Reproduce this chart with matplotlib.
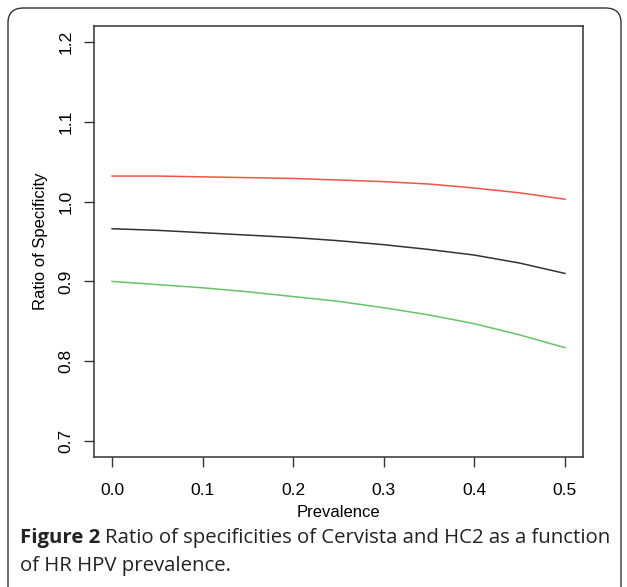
import matplotlib
matplotlib.use("Agg")
import matplotlib.pyplot as plt
from matplotlib.patches import FancyBboxPatch

# data
prevalence = [0.0, 0.05, 0.1, 0.15, 0.2, 0.25, 0.3, 0.35, 0.4, 0.45, 0.5]
ratio_upper = [1.032, 1.032, 1.031, 1.030, 1.029, 1.027, 1.025, 1.022, 1.017, 1.011, 1.003]
ratio_mid = [0.966, 0.964, 0.961, 0.958, 0.955, 0.951, 0.946, 0.940, 0.933, 0.923, 0.910]
ratio_lower = [0.900, 0.896, 0.892, 0.887, 0.881, 0.875, 0.867, 0.858, 0.847, 0.833, 0.817]
x_ticks = [0.0, 0.1, 0.2, 0.3, 0.4, 0.5]
y_ticks = [0.7, 0.8, 0.9, 1.0, 1.1, 1.2]

W, H = 627, 587
fig = plt.figure(figsize=(W / 100, H / 100), dpi=100)

# rounded frame round the figure panel
frame = FancyBboxPatch((8 / W, -20 / H), 613 / W, (H - 8 + 20) / H,
                       boxstyle="round,pad=0,rounding_size=0.025",
                       transform=fig.transFigure, fill=False,
                       edgecolor="#333333", linewidth=1.0)
fig.patches.append(frame)

ax = fig.add_axes([94 / W, 1 - 457 / H, (583 - 94) / W, (457 - 26) / H])
ax.plot(prevalence, ratio_upper, color="#ee5544", linewidth=1.1)
ax.plot(prevalence, ratio_mid, color="#333333", linewidth=1.1)
ax.plot(prevalence, ratio_lower, color="#66c466", linewidth=1.1)

ax.set_xlim(-0.02, 0.52)
ax.set_ylim(0.68, 1.22)
ax.set_xticks(x_ticks)
ax.set_xticklabels([f"{v:.1f}" for v in x_ticks])
ax.set_yticks(y_ticks)
ax.set_yticklabels([f"{v:.1f}" for v in y_ticks], rotation=90, va="center")

font = "Liberation Sans"
for lab in ax.get_xticklabels() + ax.get_yticklabels():
    lab.set_family(font)
    lab.set_fontsize(12.5)
ax.tick_params(direction="out", length=7, width=1, color="#333333", pad=8)
ax.tick_params(axis="x", pad=12)
for s in ax.spines.values():
    s.set_linewidth(1.1)
    s.set_color("#333333")

ax.set_xlabel("Prevalence", family=font, fontsize=12, labelpad=5)
ax.set_ylabel("Ratio of Specificity", family=font, fontsize=12, labelpad=7)

# caption, bold lead then regular text
cap_font = "Open Sans"
cap_size = 14.7
t1 = fig.text(20 / W, 1 - 538 / H, "Figure 2", fontsize=cap_size, family=cap_font,
              weight="bold", va="center", color="#222222")
fig.canvas.draw()
bb = t1.get_window_extent()
fig.text((bb.x1 + 5) / W, 1 - 538 / H,
         "Ratio of specificities of Cervista and HC2 as a function",
         fontsize=cap_size, family=cap_font, va="center", color="#222222")
fig.text(20 / W, 1 - 566 / H, "of HR HPV prevalence.", fontsize=cap_size,
         family=cap_font, va="center", color="#222222")

fig.savefig("out.png", dpi=100)
